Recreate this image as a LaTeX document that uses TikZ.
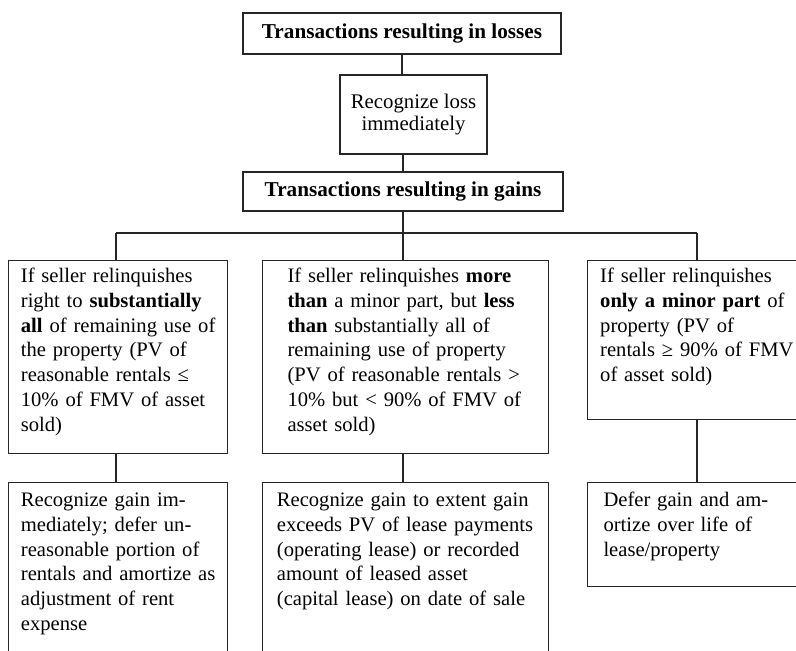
\documentclass[tikz,border=0pt]{standalone}
\usepackage{fontspec}
\setmainfont{Liberation Serif}
\usetikzlibrary{calc}
\tikzset{
  box/.style={draw=black!85, line width=1.4pt, inner sep=0pt},
  nwbox/.style={box, anchor=north west},
  hdr/.style={box, align=center, font=\fontsize{21.2pt}{24.8pt}\selectfont},
  txt/.style={inner sep=0pt, anchor=base west, text width=300pt, align=left, font=\fontsize{20.6pt}{24.8pt}\selectfont},
  ln/.style={draw=black!85, line width=1.1pt},
}
\begin{document}
\begin{tikzpicture}[x=1pt, y=-1pt]
\useasboundingbox (0,0) rectangle (796,651);
\clip (0,0) rectangle (796,651);
% header boxes
\node[hdr, minimum width=318pt, minimum height=41pt] (T) at (402,33.5) {\bfseries Transactions resulting in losses};
\node[hdr, minimum width=147pt, minimum height=79pt, font=\fontsize{20.8pt}{22.7pt}\selectfont] (Lo) at (413.5,114.5) {Recognize loss\\immediately};
\node[hdr, minimum width=320pt, minimum height=39pt] (G) at (403,191.5) {\bfseries Transactions resulting in gains};
% condition boxes
\node[nwbox, minimum width=219pt, minimum height=193pt] (L1) at (8,260) {};
\node[nwbox, minimum width=286pt, minimum height=193pt] (M1) at (262,260) {};
\node[nwbox, minimum width=220pt, minimum height=159pt] (R1) at (587,260) {};
% result boxes
\node[nwbox, minimum width=219pt, minimum height=200pt] (L2) at (8,482) {};
\node[nwbox, minimum width=286pt, minimum height=200pt] (M2) at (262,482) {};
\node[nwbox, minimum width=220pt, minimum height=104pt] (R2) at (587,482) {};
% texts
\node[txt] (L1t) at (20.7,282.5) {If seller relinquishes\\right to \textbf{substantially}\\\textbf{all} of remaining use of\\the property (PV of\\reasonable rentals ≤\\10\% of FMV of asset\\sold)};
\node[txt] (M1t) at (287.3,282.5) {If seller relinquishes \textbf{more}\\\textbf{than} a minor part, but \textbf{less}\\\textbf{than} substantially all of\\remaining use of property\\(PV of reasonable rentals >\\10\% but < 90\% of FMV of\\asset sold)};
\node[txt] (R1t) at (600,282.5) {If seller relinquishes\\\textbf{only a minor part} of\\property (PV of\\rentals ≥ 90\% of FMV\\of asset sold)};
\node[txt] (L2t) at (20.7,506.5) {Recognize gain im-\\mediately; defer un-\\reasonable portion of\\rentals and amortize as\\adjustment of rent\\expense};
\node[txt] (M2t) at (276.7,506.5) {Recognize gain to extent gain\\exceeds PV of lease payments\\(operating lease) or recorded\\amount of leased asset\\(capital lease) on date of sale};
\node[txt] (R2t) at (603.3,506.5) {Defer gain and am-\\ortize over life of\\lease/property};
% connectors
\coordinate (jL) at (116,233);
\coordinate (jR) at (697,233);
\coordinate (jM) at (G.south |- jL);
\draw[ln] (T.south) -- (T.south |- Lo.north);
\draw[ln] (Lo.south -| G.north) -- (G.north);
\draw[ln] (G.south) -- (jM);
\draw[ln] (jL) -- (jR);
\draw[ln] (jL) -- (jL |- L1.north);
\draw[ln] (jM) -- (jM |- M1.north);
\draw[ln] (jR) -- (jR |- R1.north);
\draw[ln] (jL |- L1.south) -- (jL |- L2.north);
\draw[ln] (jM |- M1.south) -- (jM |- M2.north);
\draw[ln] (jR |- R1.south) -- (jR |- R2.north);
\end{tikzpicture}
\end{document}
